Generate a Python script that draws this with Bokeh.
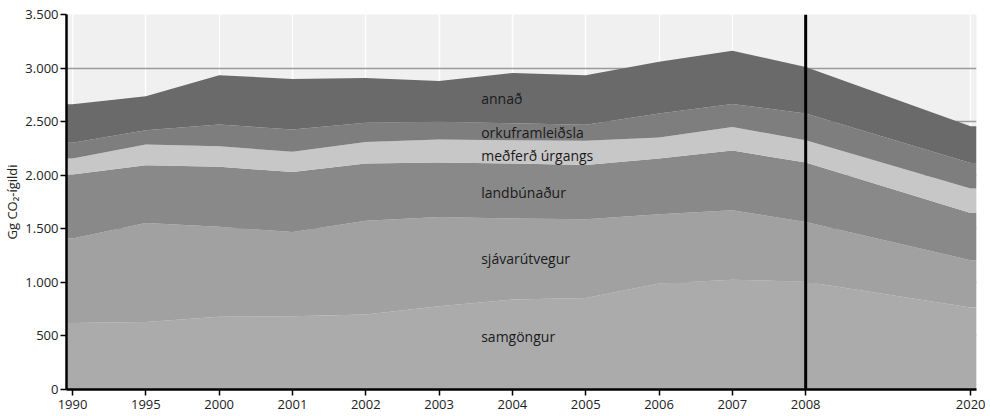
from bokeh.plotting import figure
from bokeh.models import ColumnDataSource, FixedTicker, Span, Range1d, Label
from bokeh.embed import file_html
from bokeh.resources import INLINE

# ---- data (Gg CO2-ígildi) ----
years = ["1990", "1995", "2000", "2001", "2002", "2003", "2004", "2005", "2006", "2007", "2008", "2020"]
samgongur = [621, 631, 678, 684, 700, 777, 840, 855, 990, 1025, 1005, 765]
sjavarutvegur = [788, 924, 840, 787, 874, 834, 756, 735, 646, 648, 559, 442]
landbunadur = [598, 539, 560, 560, 535, 508, 514, 505, 520, 557, 555, 441]
medferd_urgangs = [149, 193, 193, 187, 202, 214, 216, 227, 196, 221, 208, 228]
orkuframleidsla = [146, 133, 202, 209, 178, 165, 159, 148, 224, 214, 249, 239]
annad = [361, 318, 461, 472, 419, 382, 470, 463, 482, 497, 435, 342]

series_keys = ["samgongur", "sjavarutvegur", "landbunadur", "medferd", "orku", "annad"]
series_values = [samgongur, sjavarutvegur, landbunadur, medferd_urgangs, orkuframleidsla, annad]
series_names = ["samgöngur", "sjávarútvegur", "landbúnaður", "meðferð úrgangs", "orkuframleiðsla", "annað"]
colors = ["#ababab", "#a1a1a1", "#898989", "#c7c7c7", "#7e7e7e", "#6a6a6a"]

y_ticks = [0, 500, 1000, 1500, 2000, 2500, 3000, 3500]
y_tick_labels = ["0", "500", "1.000", "1.500", "2.000", "2.500", "3.000", "3.500"]
y_axis_label = "Gg CO\u2082-ígildi"
marker_year = "2008"

# ---- layout: evenly spaced slots up to 2008, 2020 set further out ----
slots = [float(i) for i in range(len(years) - 1)] + [len(years) - 2 + 2.25]
x_start, x_end = -0.082, slots[-1] + 0.08

# areas run to the frame edges
area_x = [x_start] + slots + [x_end]
data = {"x": area_x}
for k, v in zip(series_keys, series_values):
    data[k] = [v[0]] + list(v) + [v[-1]]
src = ColumnDataSource(data)

p = figure(frame_width=910, frame_height=375,
           x_range=Range1d(x_start, x_end), y_range=Range1d(0, 3500),
           output_backend="svg", toolbar_location=None,
           min_border_left=60, min_border_top=14, min_border_right=12, min_border_bottom=24)
p.background_fill_color = "#f0f0f0"
p.border_fill_color = "white"
p.outline_line_color = None

p.varea_stack(stackers=series_keys, x="x", color=colors, source=src)

# 2008 marker line
p.add_layout(Span(location=slots[years.index(marker_year)], dimension="height",
                  line_color="black", line_width=3))

# grids
p.ygrid.ticker = FixedTicker(ticks=y_ticks)
p.ygrid.grid_line_color = "#9a9a9a"
p.ygrid.grid_line_width = 1.5
p.xgrid.ticker = FixedTicker(ticks=slots)
p.xgrid.grid_line_color = "white"
p.xgrid.grid_line_width = 1.5

# axes
for ax in (p.xaxis[0], p.yaxis[0]):
    ax.axis_line_color = "black"
    ax.axis_line_width = 2.5
    ax.major_tick_line_color = "black"
    ax.major_tick_line_width = 1.5
    ax.major_tick_in = 0
    ax.major_tick_out = 6
    ax.minor_tick_line_color = None
    ax.major_label_text_font = "Open Sans"
    ax.major_label_text_font_size = "13px"
    ax.major_label_text_color = "#222222"

p.xaxis.ticker = FixedTicker(ticks=slots)
p.xaxis.major_label_overrides = {s: y for s, y in zip(slots, years)}
p.xaxis.major_label_standoff = 4

p.yaxis.ticker = FixedTicker(ticks=y_ticks)
p.yaxis.major_label_overrides = {t: l for t, l in zip(y_ticks, y_tick_labels)}
p.yaxis.major_label_standoff = 2
p.yaxis.axis_label = y_axis_label
p.yaxis.axis_label_text_font = "Open Sans"
p.yaxis.axis_label_text_font_size = "13px"
p.yaxis.axis_label_text_font_style = "normal"
p.yaxis.axis_label_text_color = "#222222"
p.yaxis.axis_label_standoff = 1

# in-chart series labels
label_x = 5.574
label_y = [497, 1225, 1841, 2187, 2401, 2719]
for name, ly in zip(series_names, label_y):
    p.add_layout(Label(x=label_x, y=ly, text=name, text_baseline="middle",
                       text_font="Open Sans", text_font_size="14px",
                       text_color="#1a1a1a"))

open("out.html", "w").write(file_html(p, INLINE))
